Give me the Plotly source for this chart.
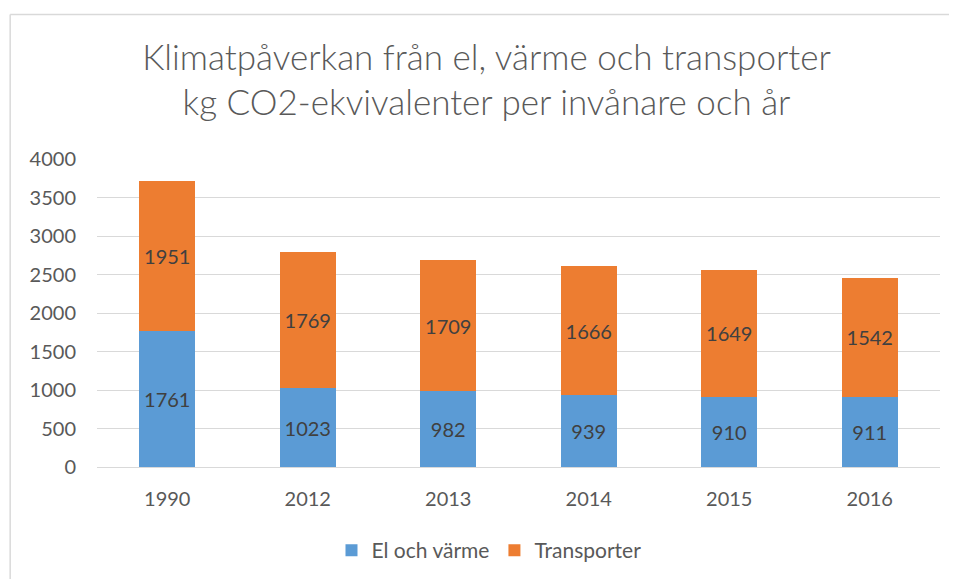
import plotly.graph_objects as go

years = ["1990", "2012", "2013", "2014", "2015", "2016"]
el_varme = [1761, 1023, 982, 939, 910, 911]
transporter = [1951, 1769, 1709, 1666, 1649, 1542]
y_ticks = [0, 500, 1000, 1500, 2000, 2500, 3000, 3500, 4000]

FONT = "Lato, 'Open Sans', sans-serif"
fig = go.Figure()
fig.add_trace(go.Bar(
    x=years, y=el_varme, name="El och värme",
    marker=dict(color="#5B9BD5", line=dict(width=0)),
    text=[str(v) for v in el_varme], textposition="inside",
    insidetextanchor="middle",
    textfont=dict(size=20, color="#404040", family=FONT),
))
fig.add_trace(go.Bar(
    x=years, y=transporter, name="Transporter",
    marker=dict(color="#ED7D31", line=dict(width=0)),
    text=[str(v) for v in transporter], textposition="inside",
    insidetextanchor="middle",
    textfont=dict(size=20, color="#404040", family=FONT),
))

fig.update_layout(
    barmode="stack",
    bargap=0.6,
    width=957, height=579,
    paper_bgcolor="white", plot_bgcolor="white",
    margin=dict(l=89, r=25, t=151, b=120),
    font=dict(family=FONT, color="#595959"),
    title=dict(
        text="Klimatpåverkan från el, värme och transporter<br>kg CO2-ekvivalenter per invånare och år",
        x=0.5, xanchor="center", y=0.893, yanchor="top",
        font=dict(size=35, color="#595959", family=FONT, weight=300),
    ),
    uniformtext=dict(mode="show", minsize=10),
    legend=dict(
        orientation="h", x=0.465, xanchor="center", y=-0.205, yanchor="top",
        font=dict(size=21, color="#595959", family=FONT),
        itemsizing="constant", traceorder="normal",
    ),
    showlegend=True,
)
fig.update_xaxes(
    showgrid=False, showline=True, linecolor="#D9D9D9", linewidth=1,
    tickfont=dict(size=20, color="#595959"), ticks="", ticklabelstandoff=14,
)
fig.update_yaxes(
    range=[0, 4000], tickvals=y_ticks, showgrid=True, gridcolor="#D9D9D9",
    gridwidth=1, zeroline=False, showline=False,
    tickfont=dict(size=20, color="#595959"), ticks="", ticklabelstandoff=20,
)
# chart-area frame (top and left edges visible in the reference)
fig.add_shape(type="line", xref="paper", yref="paper",
              x0=-0.103, x1=1.2, y0=1.469, y1=1.469,
              line=dict(color="#D9D9D9", width=1.5), layer="below")
fig.add_shape(type="line", xref="paper", yref="paper",
              x0=-0.103, x1=-0.103, y0=-0.7, y1=1.469,
              line=dict(color="#D9D9D9", width=1.5), layer="below")
fig.write_html("out.html")
